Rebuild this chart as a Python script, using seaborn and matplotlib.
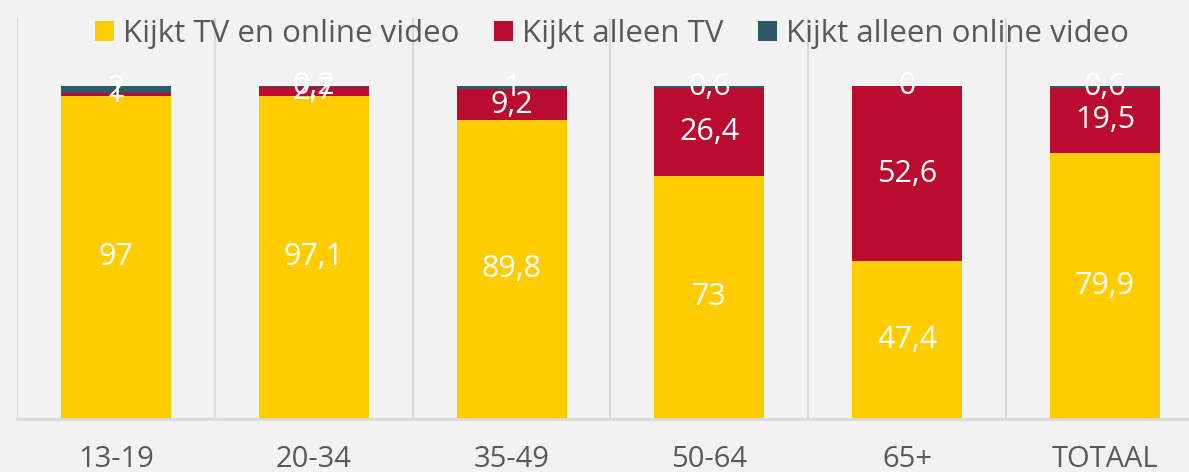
import numpy as np
import pandas as pd
import matplotlib
matplotlib.use("Agg")
import matplotlib.pyplot as plt
import seaborn as sns
from matplotlib.patches import Patch

# data
groups = ["13-19", "20-34", "35-49", "50-64", "65+", "TOTAAL"]
tv_en_online = [97, 97.1, 89.8, 73, 47.4, 79.9]
alleen_tv = [1, 2.7, 9.2, 26.4, 52.6, 19.5]
alleen_online = [2, 0.2, 1, 0.6, 0, 0.6]
series_names = ["Kijkt TV en online video", "Kijkt alleen TV", "Kijkt alleen online video"]
colors = ["#FFCC00", "#BA0C2F", "#2E5A68"]

bg = "#F2F2F2"
grey = "#595959"

sns.set_theme(style="white")
plt.rcParams['font.family'] = ['Open Sans', 'DejaVu Sans']

df = pd.DataFrame({"groep": groups,
                   "s1": tv_en_online, "s2": alleen_tv, "s3": alleen_online})
df["c1"] = df["s1"]
df["c2"] = df["s1"] + df["s2"]
df["c3"] = df["c2"] + df["s3"]

fig = plt.figure(figsize=(11.89, 4.72), dpi=100, facecolor=bg)
ax = fig.add_axes([17 / 1189, 1 - 419 / 472, (1204 - 17) / 1189, (419 - 18) / 472])
ax.set_facecolor(bg)

# stacked bars: draw cumulative totals, top layer first
for col, c in zip(["c3", "c2", "c1"], colors[::-1]):
    sns.barplot(data=df, x="groep", y=col, color=c, width=0.556,
                saturation=1, linewidth=0, ax=ax, order=groups)

# centered value labels
fmt = lambda v: f"{v:g}".replace(".", ",")
for i in range(len(groups)):
    bottom = 0
    for s in ["s1", "s2", "s3"]:
        v = df.loc[i, s]
        ax.text(i, bottom + v / 2, fmt(v), ha="center", va="center",
                color="white", fontsize=22)
        bottom += v

ax.set_xlim(-0.5, len(groups) - 0.5)
ax.set_ylim(0, 120.4)
ax.set_yticks([])
ax.set_xlabel("")
ax.set_ylabel("")

# vertical separators between categories
for b in np.arange(-0.5, len(groups), 1):
    ax.axvline(b, color="#D9D9D9", lw=1.5, zorder=0)

for side in ["top", "right", "left"]:
    ax.spines[side].set_visible(False)
ax.spines["bottom"].set_color("#D9D9D9")
ax.spines["bottom"].set_linewidth(2)
ax.tick_params(axis="x", length=0, pad=19, labelsize=21, labelcolor=grey)

handles = [Patch(facecolor=c, edgecolor="none") for c in colors]
fig.legend(handles, series_names, loc="upper center", bbox_to_anchor=(0.515, 1.02),
           ncol=3, frameon=False, fontsize=22.5, labelcolor=grey,
           handlelength=0.6, handleheight=0.6, handletextpad=0.3, columnspacing=1.1)

fig.savefig("out.png", dpi=100, facecolor=bg)
